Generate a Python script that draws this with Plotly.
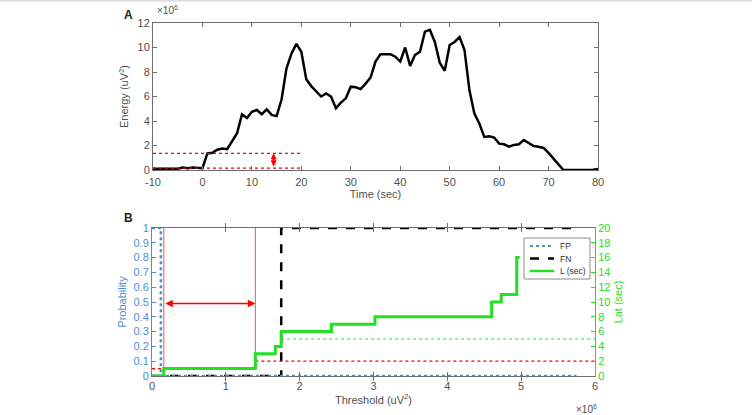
import plotly.graph_objects as go

# ---------------- Data ----------------
time_sec = list(range(-10, 81))
energy_e6 = [0.1, 0.1, 0.1, 0.15, 0.1, 0.1, 0.2, 0.15, 0.2, 0.2,
             0.15, 1.35, 1.4, 1.65, 1.75, 1.7, 2.3, 3.0, 4.55, 4.25,
             4.75, 4.9, 4.55, 4.95, 4.5, 4.4, 5.75, 8.3, 9.5, 10.3,
             9.65, 7.4, 6.85, 6.4, 6.0, 6.25, 6.0, 5.05, 5.5, 5.85,
             6.8, 6.75, 6.6, 7.05, 7.55, 8.85, 9.45, 9.45, 9.45, 9.25,
             8.85, 10.0, 8.5, 9.4, 9.65, 11.3, 11.45, 10.45, 8.75, 8.1,
             10.2, 10.45, 10.85, 9.8, 6.5, 4.6, 3.8, 2.7, 2.75, 2.65,
             2.15, 2.1, 1.9, 2.05, 2.1, 2.45, 2.2, 1.95, 1.9, 1.8,
             1.4, 0.95, 0.45, 0.0, 0.0, 0.0, 0.0, 0.0, 0.0, 0.02, 0.08]

thr_levels_A = [0.16, 1.36]          # red dotted thresholds in panel A (x1e6)
arrow_time_A = 14.4

fp_x = [0.0, 0.12, 5.75]
fp_y = [1, 0, 0]
fn_x = [0.0, 1.75, 5.75]
fn_y = [0, 1, 1]
lat_x = [0.0, 0.16, 1.40, 1.67, 1.75, 2.43, 3.02, 4.60, 4.73, 4.94, 4.98]
lat_y = [0, 1, 3, 4, 6, 7, 8, 10, 11, 16, 16]

x_ticks_A = list(range(-10, 81, 10))
x_ticks_A_labels = ["-10", "0", "10", "20", "30", "40", "50", "60", "70", "80"]
y_ticks_A = [0, 2, 4, 6, 8, 10, 12]
x_ticks_B = [0, 1, 2, 3, 4, 5, 6]
y_ticks_B = [0, 0.1, 0.2, 0.3, 0.4, 0.5, 0.6, 0.7, 0.8, 0.9, 1]
y_ticks_B_labels = ["0", "0.1", "0.2", "0.3", "0.4", "0.5", "0.6", "0.7", "0.8", "0.9", "1"]
y2_ticks_B = list(range(0, 21, 2))
legend_names = ["FP", "FN", "L (sec)"]

# ---------------- Style ----------------
W, H = 752, 415
FONT = "Liberation Sans"
AX = "#6e6e6e"
TXT = "#505050"
BLUE = "#4a8fd4"
GREEN = "#22e022"
RED = "#ff0000"

def px(x):
    return x / W

def py(y):
    return 1 - y / H

fig = go.Figure()

# Panel A
fig.add_trace(go.Scatter(x=time_sec, y=energy_e6, mode="lines",
                         line=dict(color="black", width=2.5),
                         xaxis="x", yaxis="y", showlegend=False))
for lv in thr_levels_A:
    fig.add_trace(go.Scatter(x=[-10, 20], y=[lv, lv], mode="lines",
                             line=dict(color=RED, width=1.2, dash="dot"),
                             xaxis="x", yaxis="y", showlegend=False))
fig.add_annotation(x=arrow_time_A, y=thr_levels_A[1], ax=arrow_time_A, ay=thr_levels_A[0],
                   xref="x", yref="y", axref="x", ayref="y", showarrow=True,
                   arrowhead=2, startarrowhead=2, arrowside="end+start",
                   arrowcolor=RED, arrowwidth=1.5, arrowsize=0.8, startarrowsize=0.8, text="")
fig.add_trace(go.Scatter(x=[arrow_time_A], y=[(thr_levels_A[0] + thr_levels_A[1]) / 2],
                         mode="markers",
                         marker=dict(color="white", size=3, line=dict(color=RED, width=1)),
                         xaxis="x", yaxis="y", showlegend=False))

# Panel B reference lines
def seg(x0, x1, y0, y1, color, yaxis="y2", width=1.2, dash="dot"):
    fig.add_trace(go.Scatter(x=[x0, x1], y=[y0, y1], mode="lines",
                             line=dict(color=color, width=width, dash=dash),
                             xaxis="x2", yaxis=yaxis, showlegend=False, hoverinfo="skip"))

seg(0, 0.16, 0.05, 0.05, RED)
seg(0.16, 0.16, 0.05, 1, RED, dash="solid", width=0.7)
seg(1.40, 1.40, 0.15, 1, RED, dash="solid", width=0.7)
seg(1.40, 6, 2, 2, RED, yaxis="y3")
seg(1.75, 6, 5, 5, GREEN, yaxis="y3")

# Panel B series
fig.add_trace(go.Scatter(x=lat_x, y=lat_y, mode="lines", line_shape="hv",
                         line=dict(color=GREEN, width=3), name=legend_names[2],
                         xaxis="x2", yaxis="y3", showlegend=False))
fig.add_trace(go.Scatter(x=fn_x, y=fn_y, mode="lines", line_shape="hv",
                         line=dict(color="black", width=2.5, dash="dash"), name=legend_names[1],
                         xaxis="x2", yaxis="y2", showlegend=False))
fig.add_trace(go.Scatter(x=fp_x, y=fp_y, mode="lines", line_shape="hv",
                         line=dict(color=BLUE, width=2.5, dash="dot"), name=legend_names[0],
                         xaxis="x2", yaxis="y2", showlegend=False))

fig.add_annotation(x=1.40, y=0.49, ax=0.16, ay=0.49, xref="x2", yref="y2",
                   axref="x2", ayref="y2", showarrow=True, arrowhead=2, startarrowhead=2,
                   arrowside="end+start", arrowcolor=RED, arrowwidth=1.5, text="")

common = dict(showgrid=False, zeroline=False, showline=True, linecolor=AX, linewidth=1,
              ticks="inside", ticklen=4, tickcolor=AX, mirror="allticks", automargin=False,
              tickfont=dict(family=FONT, size=11, color=TXT))

fig.update_layout(
    width=W, height=H, margin=dict(l=0, r=0, t=0, b=0),
    paper_bgcolor="white", plot_bgcolor="white",
    font=dict(family=FONT, color=TXT),
    showlegend=False,
    xaxis=dict(domain=[px(153), px(598)], anchor="y", range=[-10, 80], tickvals=x_ticks_A,
               ticktext=x_ticks_A_labels, ticklabelstandoff=2,
               title=dict(text="Time (sec)", font=dict(size=11, color=TXT), standoff=3), **common),
    yaxis=dict(domain=[py(170), py(23)], anchor="x", range=[0, 12], tickvals=y_ticks_A,
               title=dict(text="Energy (uV<sup>2</sup>)", font=dict(size=11, color=TXT), standoff=6),
               **common),
    xaxis2=dict(domain=[px(152), px(595)], anchor="y2", range=[0, 6], tickvals=x_ticks_B,
                ticklabelstandoff=0,
                title=dict(text="Threshold (uV<sup>2</sup>)", font=dict(size=11, color=TXT), standoff=2),
                **common),
    yaxis2=dict(domain=[py(376), py(228)], anchor="x2", range=[0, 1], tickvals=y_ticks_B,
                ticktext=y_ticks_B_labels, automargin=False,
                title=dict(text="Probability", font=dict(size=11, color=BLUE), standoff=4),
                showgrid=False, zeroline=False, showline=True, linecolor=BLUE, linewidth=1,
                ticks="inside", ticklen=4, tickcolor=BLUE,
                tickfont=dict(family=FONT, size=11, color=BLUE)),
    yaxis3=dict(overlaying="y2", side="right", anchor="x2", range=[0, 20], tickvals=y2_ticks_B,
                automargin=False,
                title=dict(text="Lat (sec)", font=dict(size=11, color=GREEN), standoff=4),
                showgrid=False, zeroline=False, showline=True, linecolor=GREEN, linewidth=1,
                ticks="inside", ticklen=4, tickcolor=GREEN,
                tickfont=dict(family=FONT, size=11, color=GREEN)),
)

# Legend box (drawn manually to match the compact MATLAB legend)
fig.add_shape(type="rect", xref="paper", yref="paper", x0=px(524), x1=px(590),
              y0=py(279), y1=py(238), line=dict(color="#8a8a8a", width=1), fillcolor="white",
              layer="above")
leg_styles = [(BLUE, "dot", 2), ("black", "dash", 2.5), (GREEN, "solid", 2.5)]
leg_rows = [246, 258.5, 271]
for (col, dash, w), yy, name in zip(leg_styles, leg_rows, legend_names):
    fig.add_shape(type="line", xref="paper", yref="paper", x0=px(530), x1=px(554),
                  y0=py(yy), y1=py(yy), line=dict(color=col, width=w, dash=dash), layer="above")
    fig.add_annotation(x=px(558), y=py(yy), xref="paper", yref="paper", xanchor="left",
                       yanchor="middle", text=name, showarrow=False,
                       font=dict(family=FONT, size=8.5, color="#333"))

# Panel labels and exponent labels
fig.add_annotation(x=px(128), y=py(15), xref="paper", yref="paper", text="<b>A</b>",
                   xanchor="center", yanchor="middle",
                   showarrow=False, font=dict(family=FONT, size=12, color="#222"))
fig.add_annotation(x=px(128), y=py(218), xref="paper", yref="paper", text="<b>B</b>",
                   xanchor="center", yanchor="middle",
                   showarrow=False, font=dict(family=FONT, size=12, color="#222"))
fig.add_annotation(x=px(155), y=py(10), xref="paper", yref="paper", xanchor="left",
                   yanchor="middle", text="×10<sup>6</sup>", showarrow=False,
                   font=dict(family=FONT, size=10, color=TXT))
fig.add_annotation(x=px(599), y=py(409), xref="paper", yref="paper", xanchor="right",
                   yanchor="middle", text="×10<sup>6</sup>", showarrow=False,
                   font=dict(family=FONT, size=10, color=TXT))
# thin frame line at the top of the figure
fig.add_shape(type="line", xref="paper", yref="paper", x0=0, x1=1, y0=py(0.5), y1=py(0.5),
              line=dict(color="#dcdcdc", width=2))

fig.write_html("out.html")
